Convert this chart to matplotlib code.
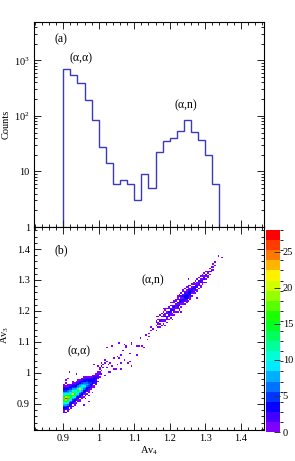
import numpy as np
import matplotlib
matplotlib.use('Agg')
import matplotlib.pyplot as plt
from matplotlib.colors import ListedColormap, BoundaryNorm, hsv_to_rgb
from matplotlib.ticker import MultipleLocator, FixedLocator, FuncFormatter, LogLocator, NullFormatter, FixedFormatter

plt.rcParams['font.family'] = ['Liberation Serif', 'DejaVu Serif']
plt.rcParams['mathtext.fontset'] = 'custom'
plt.rcParams['mathtext.rm'] = 'Liberation Serif'
plt.rcParams['mathtext.it'] = 'Liberation Serif:italic'
plt.rcParams['mathtext.bf'] = 'Liberation Serif:bold'

# ---------------- data ----------------
# (a) 1D histogram of Av4, bins of 0.02 from 0.90 to 1.34
hist_lo = 0.90
hist_width = 0.02
hist_counts = [700, 551, 395, 194, 85, 27, 14, 6, 7, 6, 3, 9, 5, 22, 35, 40, 54, 85, 51, 37, 20, 6]

# (b) 2D histogram (Av4, Av3), cells of 0.005
# (alpha,alpha) dense cluster: column x, lowest cell y, counts going upward
aa_x = [0.900, 0.905, 0.910, 0.915, 0.920, 0.925, 0.930, 0.935, 0.940, 0.945,
        0.950, 0.955, 0.960, 0.965, 0.970, 0.975, 0.980, 0.985, 0.990, 0.995,
        1.000, 1.005]
aa_y0 = [0.870, 0.870, 0.875, 0.880, 0.885, 0.890, 0.895, 0.900, 0.905, 0.910,
         0.915, 0.920, 0.925, 0.930, 0.935, 0.945, 0.950, 0.955, 0.960, 0.970,
         0.985, 0.990]
aa_counts = [
    [1, 1, 2, 3, 5, 7, 10, 13, 16, 18, 15, 12, 9, 7, 5, 3, 2, 1, 1],
    [1, 0, 2, 3, 5, 8, 11, 15, 19, 27, 20, 14, 10, 7, 5, 3, 2, 1, 0, 1],
    [1, 1, 2, 4, 6, 9, 12, 16, 24, 18, 14, 11, 8, 6, 4, 2, 1, 1],
    [1, 0, 2, 3, 5, 8, 11, 14, 17, 15, 12, 9, 7, 5, 3, 2, 1],
    [1, 1, 2, 4, 6, 9, 12, 15, 14, 11, 9, 7, 5, 3, 2, 1],
    [1, 0, 2, 3, 5, 8, 11, 14, 22, 13, 10, 7, 5, 3, 2, 1, 1],
    [1, 1, 2, 4, 6, 9, 12, 15, 12, 9, 7, 5, 3, 2, 1],
    [1, 0, 2, 3, 5, 8, 11, 13, 11, 8, 6, 4, 3, 2, 1],
    [1, 1, 2, 4, 6, 9, 11, 14, 10, 8, 6, 4, 2, 1, 1],
    [1, 0, 2, 3, 5, 7, 10, 20, 11, 8, 6, 4, 2, 1],
    [1, 1, 2, 3, 5, 7, 9, 12, 9, 7, 5, 3, 2, 1],
    [1, 0, 1, 3, 4, 6, 8, 10, 8, 6, 4, 3, 1, 1],
    [1, 1, 2, 3, 5, 7, 9, 8, 6, 4, 3, 2, 1],
    [1, 0, 2, 3, 4, 6, 7, 6, 5, 3, 2, 1],
    [1, 1, 2, 3, 5, 6, 5, 4, 3, 2, 1],
    [1, 2, 2, 4, 5, 4, 3, 2, 1],
    [1, 1, 2, 3, 4, 3, 2, 1, 1],
    [1, 0, 2, 3, 3, 3, 2, 1],
    [1, 1, 2, 2, 3, 2, 1, 1],
    [1, 0, 1, 2, 2, 1, 1],
    [1, 0, 1, 1, 0, 1],
    [0, 1, 0, 1, 0, 0, 1],
]

# (alpha,n) cluster
an_x = [1.160, 1.165, 1.170, 1.175, 1.180, 1.185, 1.190, 1.195, 1.200, 1.205,
        1.210, 1.215, 1.220, 1.225, 1.230, 1.235, 1.240, 1.245, 1.250, 1.255,
        1.260, 1.265, 1.270, 1.275, 1.280, 1.285, 1.290, 1.295, 1.300, 1.305,
        1.310, 1.315, 1.320, 1.325, 1.335, 1.345]
an_y0 = [1.135, 1.140, 1.145, 1.150, 1.155, 1.160, 1.160, 1.170, 1.175, 1.180,
         1.185, 1.195, 1.195, 1.200, 1.210, 1.215, 1.220, 1.225, 1.230, 1.235,
         1.245, 1.250, 1.255, 1.260, 1.270, 1.275, 1.280, 1.290, 1.300, 1.305,
         1.315, 1.325, 1.330, 1.345, 1.375, 1.370]
an_counts = [
    [1, 0, 0, 1, 0, 2, 1, 0, 0, 1],
    [0, 1, 0, 1, 1, 0, 1, 0, 1],
    [1, 0, 1, 0, 2, 1, 0, 0, 1],
    [1, 0, 0, 1, 2, 0, 1, 0, 1],
    [1, 0, 1, 1, 0, 2, 1, 0, 1, 0, 1],
    [0, 1, 1, 0, 2, 1, 1, 0, 1, 1],
    [1, 0, 1, 1, 2, 0, 2, 1, 0, 1],
    [1, 0, 1, 2, 1, 3, 0, 1, 1],
    [1, 0, 1, 1, 2, 3, 1, 0, 1, 0, 1],
    [0, 1, 1, 0, 2, 1, 2, 1, 0, 1],
    [1, 0, 1, 2, 1, 3, 1, 0, 1, 1],
    [1, 0, 1, 1, 2, 1, 0, 1, 1],
    [1, 0, 1, 2, 3, 1, 2, 0, 1, 1, 1],
    [1, 1, 0, 2, 2, 3, 1, 2, 0, 1, 1],
    [1, 0, 1, 2, 3, 2, 1, 2, 0, 1],
    [0, 1, 1, 2, 3, 1, 3, 1, 0, 1, 1],
    [1, 0, 2, 2, 4, 3, 2, 2, 1, 0, 1],
    [1, 1, 2, 3, 4, 3, 2, 1, 1, 0, 1],
    [1, 0, 2, 3, 5, 3, 3, 2, 1, 1, 1],
    [1, 1, 2, 3, 4, 3, 2, 1, 0, 1],
    [1, 0, 1, 2, 3, 2, 1, 0, 1],
    [0, 1, 2, 1, 3, 2, 0, 1, 1],
    [1, 0, 2, 2, 3, 1, 1, 0, 1],
    [1, 1, 0, 2, 2, 1, 1, 0, 1],
    [1, 0, 1, 2, 1, 2, 0, 1],
    [1, 1, 0, 2, 2, 1, 0, 1],
    [0, 1, 1, 2, 1, 0, 1, 1],
    [1, 0, 2, 2, 1, 0, 1],
    [1, 0, 1, 2, 0, 1],
    [1, 1, 0, 1, 1],
    [1, 0, 2, 0, 1],
    [1, 1, 0, 1],
    [1, 0, 1],
    [1, 0, 1],
    [1],
    [1],
]

# isolated single-count cells (bridge and halo)
single_x = [1.003, 1.006, 1.008, 1.012, 1.015, 1.015, 1.020, 1.022, 1.024, 1.027,
            1.031, 1.032, 1.036, 1.040, 1.044, 1.046, 1.050, 1.052, 1.055, 1.056,
            1.060, 1.063, 1.064, 1.069, 1.072, 1.076, 1.077, 1.081, 1.085, 1.091,
            1.092, 1.094, 1.105, 1.107, 1.110, 1.121, 1.127, 1.132, 1.135, 1.142,
            1.149, 1.152, 1.016, 1.028, 1.038, 1.070, 1.088, 1.115, 1.140, 1.145,
            0.985, 0.999, 1.008, 1.011, 0.970, 0.956, 0.924, 0.914, 0.909, 0.919,
            0.914, 0.905, 0.980, 0.989, 0.994, 0.970, 1.323, 1.300, 1.275, 1.230,
            1.205, 1.185, 1.250, 0.935, 0.960, 0.945]
single_y = [1.015, 0.999, 1.020, 1.026, 0.994, 1.031, 1.015, 1.035, 1.082, 1.026,
            1.004, 1.031, 1.087, 1.010, 1.047, 1.013, 1.053, 1.028, 1.099, 1.048,
            1.031, 1.055, 1.010, 1.074, 1.090, 1.080, 1.085, 1.031, 1.037, 1.096,
            1.023, 1.090, 1.085, 1.058, 1.085, 1.085, 1.084, 1.123, 1.106, 1.128,
            1.149, 1.140, 1.041, 1.003, 1.022, 1.041, 1.060, 1.110, 1.118, 1.135,
            1.026, 1.020, 1.031, 1.016, 0.907, 0.897, 0.891, 0.881, 0.871, 1.004,
            0.984, 0.977, 0.935, 0.951, 0.967, 0.925, 1.354, 1.290, 1.240, 1.195,
            1.170, 1.150, 1.300, 0.998, 0.915, 0.905]

z_max = 28
n_levels = 20

# ---------------- build 2D histogram ----------------
step = 0.005
edges = np.arange(0.80, 1.50 + step / 2, step)
nb = len(edges) - 1
H = np.zeros((nb, nb))

def idx(v):
    return int(np.floor((v - 0.80) / step + 1e-6))

for xs, y0s, cs in ((aa_x, aa_y0, aa_counts), (an_x, an_y0, an_counts)):
    for x, y0, col in zip(xs, y0s, cs):
        ix = idx(x)
        iy0 = idx(y0)
        for k, c in enumerate(col):
            H[ix, iy0 + k] += c
for x, y in zip(single_x, single_y):
    H[idx(x), idx(y)] += 1

Hm = np.ma.masked_equal(H.T, 0)

hues = np.linspace(270, 0, n_levels) / 360.0
cols = hsv_to_rgb(np.column_stack([hues, np.ones(n_levels), np.ones(n_levels)]))
cmap = ListedColormap(cols)
cmap.set_bad('white')
levels = np.linspace(0, z_max, n_levels + 1)
norm = BoundaryNorm(levels, cmap.N)

# ---------------- figure ----------------
W, Hpx = 295, 461
fig = plt.figure(figsize=(W / 100, Hpx / 100), dpi=100)

def fr(l, t, r, b):
    return [l / W, 1 - b / Hpx, (r - l) / W, (b - t) / Hpx]

ax1 = fig.add_axes(fr(34, 22, 264, 227))
ax2 = fig.add_axes(fr(34, 227, 264, 430))
cax = fig.add_axes(fr(266, 230, 280, 432))

xlim = (0.8175, 1.4655)
fs_tick = 7.5
fs_lab = 7.5
fs_ann = 8.5
hist_color = '#3a3abf'

# panel (a)
hist_edges = hist_lo + hist_width * np.arange(len(hist_counts) + 1)
ax1.stairs(hist_counts, hist_edges, baseline=0.3, color=hist_color, lw=1.0)
ax1.set_yscale('log')
ax1.set_ylim(1, 4900)
ax1.set_xlim(*xlim)
ax1.yaxis.set_major_locator(FixedLocator([1, 10, 100, 1000]))
ax1.yaxis.set_major_formatter(FixedFormatter(['1', '10', '10$^{2}$', '10$^{3}$']))
ax1.yaxis.set_minor_locator(LogLocator(base=10, subs=range(2, 10), numticks=20))
ax1.yaxis.set_minor_formatter(NullFormatter())
ax1.xaxis.set_major_locator(MultipleLocator(0.1))
ax1.xaxis.set_minor_locator(MultipleLocator(0.02))
ax1.tick_params(axis='x', labelbottom=False)
ax1.set_ylabel('Counts', fontsize=fs_lab)
ax1.yaxis.set_label_coords(-0.1, 0.5)

# panel (b)
ax2.pcolormesh(edges, edges, Hm, cmap=cmap, norm=norm, shading='flat')
ax2.set_xlim(*xlim)
ax2.set_ylim(0.816, 1.471)
fmt = FuncFormatter(lambda v, p: '%g' % round(v, 3))
for a in (ax2.xaxis, ax2.yaxis):
    a.set_major_locator(MultipleLocator(0.1))
    a.set_minor_locator(MultipleLocator(0.02))
    a.set_major_formatter(fmt)
ax2.set_xlabel('Av$_{4}$', fontsize=fs_lab, labelpad=1)
ax2.set_ylabel('Av$_{3}$', fontsize=fs_lab)
ax2.yaxis.set_label_coords(-0.1, 0.47)

for a in (ax1, ax2):
    a.tick_params(which='both', direction='in', top=True, right=True, width=0.7,
                  labelsize=fs_tick, pad=3, color='#222222')
    a.tick_params(which='major', length=5)
    a.tick_params(which='minor', length=2.5)
    for s in a.spines.values():
        s.set_linewidth(0.8)

# colorbar
sm = plt.cm.ScalarMappable(norm=norm, cmap=cmap)
cb = fig.colorbar(sm, cax=cax, ticks=[0, 5, 10, 15, 20, 25])
cb.outline.set_visible(False)
cax.set_ylim(0, z_max)
cax.tick_params(direction='in', length=4, width=0.7, labelsize=fs_tick, pad=2, color='#333333')

# annotations
def ftext(x, y, s):
    fig.text(x / W, 1 - y / Hpx, s, ha='center', va='center', fontsize=fs_ann)

ftext(61, 39, '(a)')
ftext(81, 58, '(α,α)')
ftext(186, 105, '(α,n)')
ftext(61, 250, '(b)')
ftext(153, 280, '(α,n)')
ftext(79, 351, '(α,α)')

fig.savefig('out.png', dpi=100)
